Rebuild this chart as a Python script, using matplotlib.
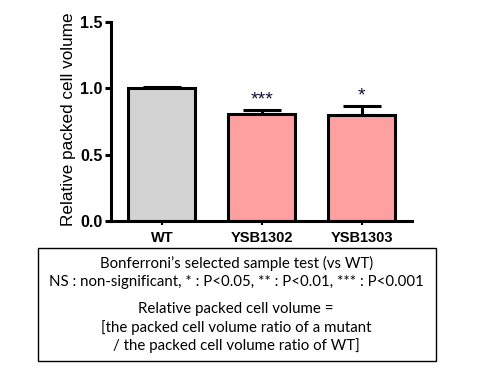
import matplotlib
matplotlib.use("Agg")
import matplotlib.pyplot as plt
from matplotlib.patches import Rectangle

categories = ["WT", "YSB1302", "YSB1303"]
values = [1.0, 0.81, 0.80]
errors = [0.01, 0.03, 0.07]
stars = ["", "***", "*"]
colors = ["#d3d3d3", "#ffa0a0", "#ffa0a0"]
yticks = [0.0, 0.5, 1.0, 1.5]
ylabel = "Relative packed cell volume"
note_lines1 = ["Bonferroni\u2019s selected sample test (vs WT)",
               "NS : non-significant, * : P<0.05, ** : P<0.01, *** : P<0.001"]
note_lines2 = ["Relative packed cell volume =",
               "[the packed cell volume ratio of a mutant",
               "/ the packed cell volume ratio of WT]"]

plt.rcParams['font.family'] = ['Liberation Sans', 'DejaVu Sans']
fig = plt.figure(figsize=(4.8, 3.7), dpi=100)
ax = fig.add_axes([0.231, 0.4027, 0.627, 0.5378])

x = list(range(len(categories)))
ax.bar(x, values, width=0.67, color=colors, edgecolor="black", linewidth=2.2, zorder=2)
ax.errorbar(x, values, yerr=[[0]*len(errors), errors], fmt="none", ecolor="black",
            elinewidth=2.2, capsize=13.5, capthick=2.2, zorder=1)
for xi, v, e, s in zip(x, values, errors, stars):
    if s:
        ax.text(xi, v + e + 0.008, s, ha="center", va="bottom", fontsize=14, color="#111133")

ax.set_xlim(-0.51, 2.5)
ax.set_ylim(0, 1.5)
ax.set_yticks(yticks)
ax.set_yticklabels([f"{t:.1f}" for t in yticks], fontsize=11.5, fontweight="bold")
ax.set_xticks(x)
ax.set_xticklabels(categories, fontsize=10.5, fontweight="bold")
ax.set_ylabel(ylabel, fontsize=12.3)
ax.yaxis.set_label_coords(-0.116, 0.51)
for side in ["top", "right"]:
    ax.spines[side].set_visible(False)
for side in ["left", "bottom"]:
    ax.spines[side].set_linewidth(2.2)
ax.tick_params(axis="y", length=4, width=2.2, pad=2)
ax.tick_params(axis="x", length=3, width=1.5, pad=4)

fig.patches.append(Rectangle((0.079, 0.0243), 0.829, 0.3054, transform=fig.transFigure,
                             fill=False, edgecolor="black", linewidth=1.0))
cx = 0.492
for y, t in zip([0.289, 0.238], note_lines1):
    fig.text(cx, y, t, ha="center", va="center", fontsize=10.8, family=["Lato", "DejaVu Sans"])
for y, t in zip([0.165, 0.116, 0.065], note_lines2):
    fig.text(cx, y, t, ha="center", va="center", fontsize=10.8, family=["Lato", "DejaVu Sans"])

fig.savefig("out.png", dpi=100)
